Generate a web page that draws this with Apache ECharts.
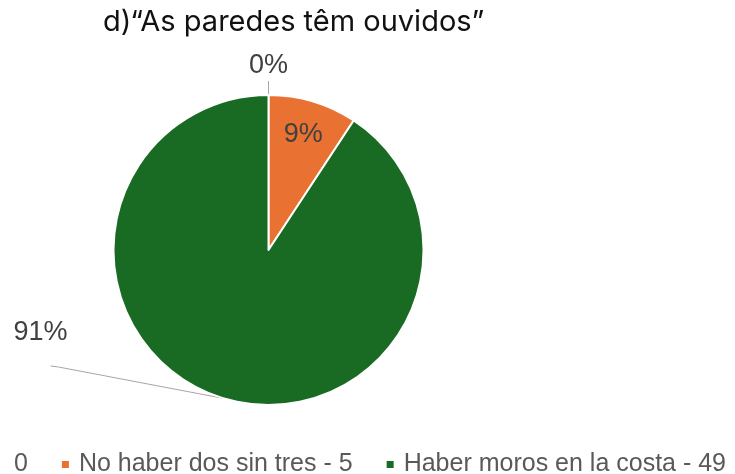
<!DOCTYPE html>
<html>
<head>
<meta charset="utf-8">
<script src="https://cdn.jsdelivr.net/npm/echarts@6/dist/echarts.min.js"></script>
<style>
  html, body { margin: 0; padding: 0; background: #fff; }
  #chart { width: 735px; height: 474px; }
</style>
</head>
<body>
<div id="chart"></div>
<script>
const categories = ['0', 'No haber dos sin tres - 5', 'Haber moros en la costa - 49'];
const values = [0, 5, 49];
const colors = ['#156082', '#E97132', '#196B24'];

const CX = 268.5;
const CY = 250;
const R = 155;

// point on a circle round the pie centre, angle clockwise from 12 o'clock
function polar(deg, dist) {
  const a = deg * Math.PI / 180;
  return [CX + dist * Math.sin(a), CY - dist * Math.cos(a)];
}

const total = values.reduce((a, b) => a + b, 0);
function midAngle(i) {
  let before = 0;
  for (let k = 0; k < i; k++) before += values[k];
  return (before + values[i] / 2) / total * 360;
}

const chart = echarts.init(document.getElementById('chart'));

chart.setOption({
  animation: false,
  title: {
    text: 'd)“As paredes têm ouvidos”',
    left: 98,
    top: 3,
    textStyle: {
      fontFamily: 'Inter',
      fontSize: 29,
      fontWeight: 'normal',
      color: '#111',
    },
  },
  legend: {
    // the first entry's key is cut off at the left edge in the original
    data: categories.map((name, i) => (i === 0 ? { name: name, itemStyle: { opacity: 0 } } : name)),
    left: -10,
    top: 447,
    width: 900,
    itemWidth: 9,
    itemHeight: 9,
    itemGap: 32,
    icon: 'rect',
    textStyle: {
      fontFamily: 'Liberation Sans',
      fontSize: 25,
      color: '#595959',
      padding: [0, 0, 0, 4],
    },
  },
  series: [
    {
      type: 'pie',
      center: [CX, CY],
      radius: R,
      startAngle: 90,
      clockwise: true,
      percentPrecision: 0,
      itemStyle: { borderColor: '#fff', borderWidth: 2 },
      label: {
        formatter: '{d}%',
        fontFamily: 'Liberation Sans',
        fontSize: 27,
        color: '#404040',
      },
      labelLine: {
        show: true,
        lineStyle: { color: '#a6a6a6', width: 1 },
      },
      labelLayout: function (params) {
        const i = params.dataIndex;
        if (i === 0) {
          const p = polar(midAngle(0), R + 29);
          return {
            x: p[0], y: p[1], align: 'center', verticalAlign: 'middle',
            labelLinePoints: [polar(0, R - 1), polar(0, R + 8), polar(0, R + 14)],
          };
        }
        if (i === 1) {
          const p = polar(midAngle(1), R * 0.78);
          return { x: p[0], y: p[1], align: 'center', verticalAlign: 'middle' };
        }
        const a = polar(midAngle(2), R);
        return {
          x: CX - 228, y: CY + 83, align: 'center', verticalAlign: 'middle',
          labelLinePoints: [a, [CX - 210, CY + 117], [CX - 218, CY + 116]],
        };
      },
      data: categories.map((name, i) => ({
        name: name,
        value: values[i],
        itemStyle: { color: colors[i] },
        label: { position: i === 1 ? 'inside' : 'outside' },
        labelLine: { show: i !== 1 },
      })),
    },
  ],
});
</script>
</body>
</html>
